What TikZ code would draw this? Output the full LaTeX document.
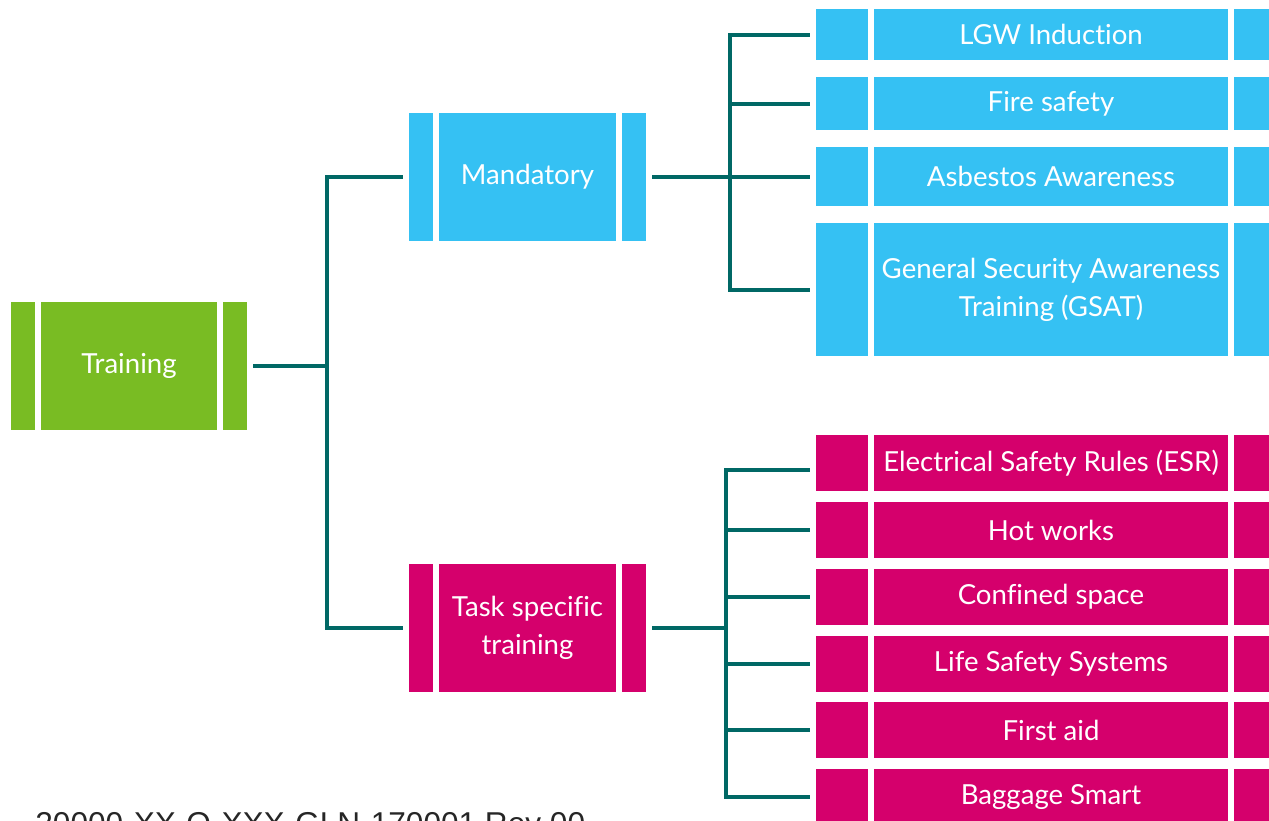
\documentclass[tikz,border=0pt]{standalone}
\usepackage{fontspec}
\setmainfont{Lato}[Ligatures=CommonOff]
\newfontfamily\refFont{Liberation Sans}
\usetikzlibrary{positioning}
\definecolor{trainGreen}{HTML}{79BC23}
\definecolor{mandBlue}{HTML}{35C1F3}
\definecolor{taskPink}{HTML}{D5006C}
\definecolor{lineTeal}{HTML}{006865}

\begin{document}
\begin{tikzpicture}
[x=0.5pt,y=-0.5pt,
  boxMain/.style={fill=#1,inner sep=0pt,text=white,align=center,
    font=\fontsize{13.8}{19}\selectfont},%
  boxBar/.style={fill=#1,inner sep=0pt},
  link/.style={draw=lineTeal,line width=2pt}]
\useasboundingbox (0,0) rectangle (1269,820);
%% first and second level
\node (train) at (129,365.5) [boxMain=trainGreen,minimum width=88pt,minimum height=64pt] {Training};
\foreach \name/\y/\col/\txt in {
  mand/177/mandBlue/Mandatory, task/628/taskPink/{Task specific\\training}}
{
  \node (\name) at (527.5,\y) [boxMain=\col,minimum width=88.5pt,minimum height=64pt] {\txt};
}
\foreach \name/\col in {train/trainGreen,mand/mandBlue,task/taskPink}
{
  \node (\name-l) [boxBar=\col,minimum width=12pt,minimum height=64pt,left=2.5pt of \name] {};
  \node (\name-r) [boxBar=\col,minimum width=12pt,minimum height=64pt,right=2.5pt of \name] {};
}
%% third level
\foreach \name/\y/\h/\col/\txt in {
  lgw/34.5/25.5/mandBlue/LGW Induction,
  fire/103.5/26.5/mandBlue/Fire safety,
  asb/176.5/29.5/mandBlue/Asbestos Awareness,
  gsat/289.5/66.5/mandBlue/{General Security Awareness\\Training (GSAT)},
  esr/463/28/taskPink/Electrical Safety Rules (ESR),
  hot/530/28/taskPink/Hot works,
  conf/597/28/taskPink/Confined space,
  life/664/28/taskPink/Life Safety Systems,
  aid/730/28/taskPink/First aid,
  bag/797/28/taskPink/Baggage Smart}
{
  \node (\name) at (1051,\y) [boxMain=\col,minimum width=177pt,minimum height=\h pt] {\txt};
  \node (\name-l) [boxBar=\col,minimum width=26pt,minimum height=\h pt,left=2.5pt of \name] {};
  \node (\name-r) [boxBar=\col,minimum width=26pt,minimum height=\h pt,right=2.5pt of \name] {};
}
%% connectors
\coordinate (trainJ) at (327,365.5);
\coordinate (mandJ) at (730,177);
\coordinate (taskJ) at (726,628);
\draw[link] ([xshift=3pt]train-r.east) -- (trainJ);
\foreach \c in {mand,task}
  \draw[link] (trainJ) |- ([xshift=-3pt]\c-l.west);
\draw[link] ([xshift=3pt]mand-r.east) -- (mandJ);
\foreach \c in {lgw,fire,asb,gsat}
  \draw[link] (mandJ) |- ([xshift=-3pt]\c-l.west);
\draw[link] ([xshift=3pt]task-r.east) -- (taskJ);
\draw[link] (taskJ) |- ([xshift=-3pt,yshift=-3.5pt]esr-l.west);
\foreach \c in {hot,conf,life,aid,bag}
  \draw[link] (taskJ) |- ([xshift=-3pt]\c-l.west);
%% document reference, cut by the page edge
\node (docref) at (35,812) [anchor=north west,inner sep=0pt,text=black!85,
  font=\refFont\fontsize{15.8}{18}\selectfont] {20000-XX-Q-XXX-GLN-170001 Rev 00};
\end{tikzpicture}
\end{document}
